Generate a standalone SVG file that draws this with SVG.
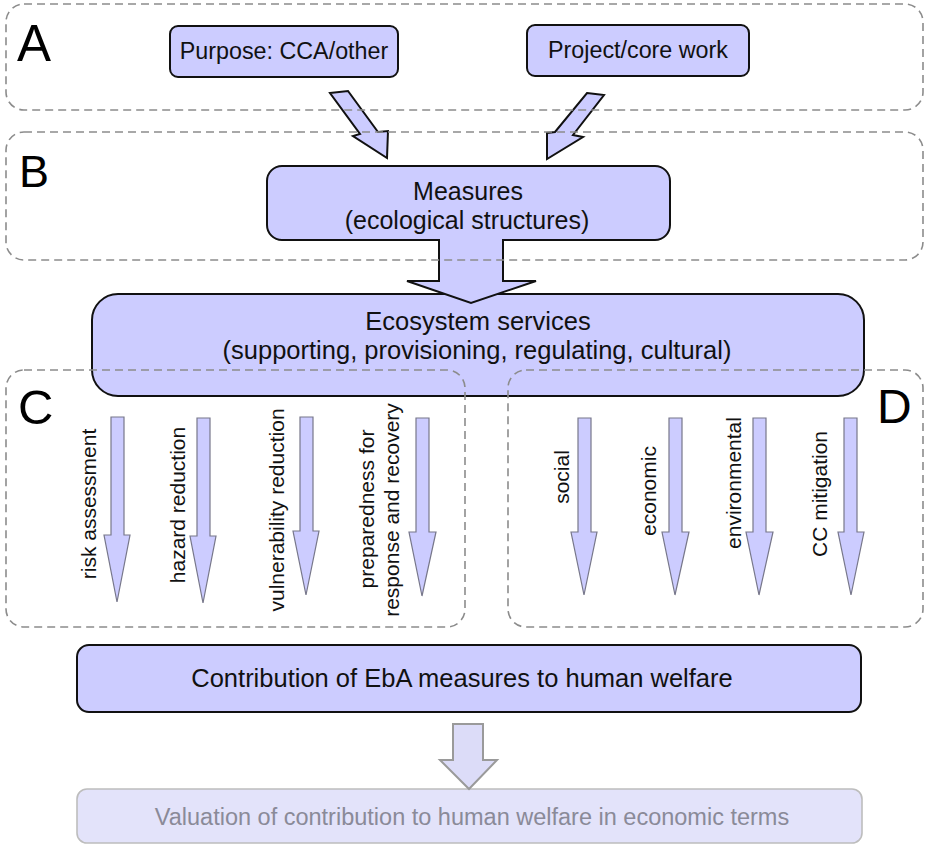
<svg xmlns="http://www.w3.org/2000/svg" width="926" height="845" viewBox="0 0 926 845">
<style>
  .node { fill: #ccccff; stroke: #111; stroke-width: 2; }
  .t { font-family: "Liberation Sans", Arial, sans-serif; fill: #111; text-anchor: middle; }
  .lbl { font-family: "Liberation Sans", Arial, sans-serif; fill: #000; }
  .zone { fill: none; stroke: #8c8c8c; stroke-width: 1.6; stroke-dasharray: 8 5; }
  .darr { fill: #ccccff; stroke: #111; stroke-width: 2; stroke-linejoin: miter; }
  .varr { fill: #ccccff; stroke: #77778a; stroke-width: 1.2; }
  .vt { font-family: "Liberation Sans", Arial, sans-serif; fill: #111; font-size: 21px; text-anchor: middle; }
</style>

<g id="ecosystem">
  <rect class="node" x="92" y="294" width="772" height="102" rx="26"/>
  <text class="t" x="478" y="330" font-size="25.5">Ecosystem services</text>
  <text class="t" x="477" y="359" font-size="25.5">(supporting, provisioning, regulating, cultural)</text>
</g>

<g id="purpose">
  <rect class="node" x="170" y="26" width="228" height="51" rx="8"/>
  <text class="t" x="284" y="59" font-size="23.3">Purpose: CCA/other</text>
</g>

<g id="project">
  <rect class="node" x="527" y="25" width="222" height="51" rx="8"/>
  <text class="t" x="638" y="58" font-size="23.3">Project/core work</text>
</g>

<g id="measures">
  <rect class="node" x="267" y="166" width="403" height="74" rx="15"/>
  <text class="t" x="468" y="200" font-size="25">Measures</text>
  <text class="t" x="467" y="229" font-size="25">(ecological structures)</text>
</g>

<g id="contribution">
  <rect class="node" x="77" y="645" width="784" height="67" rx="12"/>
  <text class="t" x="462" y="687" font-size="25.5">Contribution of EbA measures to human welfare</text>
</g>

<g id="valuation">
  <rect x="77" y="789" width="785" height="54" rx="10" fill="#e3e3fa" stroke="#bdbdbd" stroke-width="1.6"/>
  <text class="t" x="472" y="825" font-size="23.5" style="fill:#8a8a98">Valuation of contribution to human welfare in economic terms</text>
</g>

<g id="connectors">
  <polygon class="darr" points="330,93 348,91 378,132 388,131 387,158 353,136 360,134"/>
  <polygon class="darr" points="587,93 604,95 573,135 583,137 547,159 547,133 555,132"/>
  <path class="darr" d="M439,239 V281 H407 L471,303 L536,281 H503 V239"/>
  <polygon points="453,724 483,724 483,760 497,760 469,789 440,760 453,760" fill="#dcdcf8" stroke="#9a9a9a" stroke-width="2"/>

  <polygon class="varr" points="111,417 124,417 124,535 130,535 117,602 104,535 111,535"/>
  <polygon class="varr" points="197,418 210,418 210,536 216,536 203,603 190,536 197,536"/>
  <polygon class="varr" points="300,417 313,417 313,531 319,531 306,595 293,531 300,531"/>
  <polygon class="varr" points="416,418 429,418 429,532 436,532 422,596 409,532 416,532"/>

  <polygon class="varr" points="578,418 591,418 591,532 597,532 584,595 571,532 578,532"/>
  <polygon class="varr" points="669,418 682,418 682,532 689,532 675,595 662,532 669,532"/>
  <polygon class="varr" points="753,418 766,418 766,532 773,532 759,595 746,532 753,532"/>
  <polygon class="varr" points="844,418 857,418 857,532 864,532 851,595 838,532 844,532"/>
</g>

<g id="labels-c">
  <text class="vt" transform="translate(96,504) rotate(-90)">risk assessment</text>
  <text class="vt" transform="translate(185,505) rotate(-90)">hazard reduction</text>
  <text class="vt" transform="translate(284,510) rotate(-90)">vulnerability reduction</text>
  <text class="vt" transform="translate(374,509) rotate(-90)">preparedness for</text>
  <text class="vt" transform="translate(399,510) rotate(-90)">response and recovery</text>
</g>

<g id="labels-d">
  <text class="vt" transform="translate(569,477) rotate(-90)">social</text>
  <text class="vt" transform="translate(656,491) rotate(-90)">economic</text>
  <text class="vt" transform="translate(741,483) rotate(-90)">environmental</text>
  <text class="vt" transform="translate(827,494) rotate(-90)">CC mitigation</text>
</g>

<g id="zones">
  <rect class="zone" x="6" y="4" width="917" height="106" rx="18"/>
  <rect class="zone" x="6" y="132" width="917" height="128" rx="18"/>
  <rect class="zone" x="6" y="370" width="459" height="257" rx="18"/>
  <rect class="zone" x="508" y="370" width="415" height="257" rx="18"/>
  <text class="lbl" x="17" y="61" font-size="51">A</text>
  <text class="lbl" x="19" y="187" font-size="45">B</text>
  <text class="lbl" x="18" y="424" font-size="49">C</text>
  <text class="lbl" x="877" y="423" font-size="48">D</text>
</g>
</svg>
